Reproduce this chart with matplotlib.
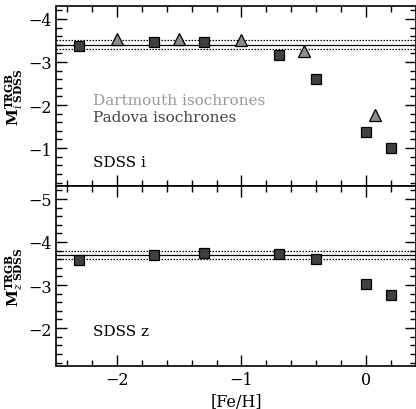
import matplotlib
matplotlib.use("Agg")
import matplotlib.pyplot as plt
from matplotlib.ticker import MultipleLocator

plt.rcParams['font.family'] = ['DejaVu Serif']
plt.rcParams['mathtext.fontset'] = 'dejavuserif'

# Data
padova_feh = [-2.3, -1.7, -1.3, -0.7, -0.4, 0.0, 0.2]
padova_i = [-3.38, -3.46, -3.46, -3.17, -2.60, -1.38, -1.00]
padova_z = [-3.57, -3.70, -3.74, -3.73, -3.60, -3.02, -2.77]
dart_feh = [-2.0, -1.5, -1.0, -0.5, 0.07]
dart_i = [-3.53, -3.53, -3.50, -3.26, -1.77]
i_mean, i_err = -3.40, 0.10
z_mean, z_err = -3.70, 0.10

W, H = 416, 410
fig = plt.figure(figsize=(W/100, H/100), dpi=100)
left = 56.5/W
right = 1.0
ax1 = fig.add_axes([left, 1-187/H, right-left, 180/H])
ax2 = fig.add_axes([left, 1-367/H, right-left, 180/H])

sq_kw = dict(marker='s', ms=7.2, mfc='#404040', mec='black', mew=0.9, ls='none', zorder=5)
tr_kw = dict(marker='^', ms=8.3, mfc='#8c8c8c', mec='black', mew=0.9, ls='none', zorder=5)

for ax, mean, err in ((ax1, i_mean, i_err), (ax2, z_mean, z_err)):
    ax.axhline(mean, color='black', lw=0.9, zorder=2)
    ax.axhline(mean - err, color='black', lw=0.9, ls=(0, (1.2, 1.2)), zorder=2)
    ax.axhline(mean + err, color='black', lw=0.9, ls=(0, (1.2, 1.2)), zorder=2)

ax1.plot(padova_feh, padova_i, **sq_kw)
ax1.plot(dart_feh, dart_i, **tr_kw)
ax2.plot(padova_feh, padova_z, **sq_kw)

ax1.set_ylim(-0.12, -4.3)
ax2.set_ylim(-1.12, -5.3)
for ax in (ax1, ax2):
    ax.set_xlim(-2.484, 0.4)
    ax.xaxis.set_major_locator(MultipleLocator(1))
    ax.xaxis.set_minor_locator(MultipleLocator(0.2))
    ax.yaxis.set_major_locator(MultipleLocator(1))
    ax.yaxis.set_minor_locator(MultipleLocator(0.2))
    ax.tick_params(which='both', direction='in', top=True, right=True, labelsize=11.5)
    ax.tick_params(which='major', length=8, width=1)
    ax.tick_params(which='minor', length=4, width=1)
    for s in ax.spines.values():
        s.set_linewidth(1.2)
ax1.tick_params(labelbottom=False)
ax1.set_yticks([-4, -3, -2, -1])
ax2.set_yticks([-5, -4, -3, -2])

tx = -2.19
ax1.text(tx, -2.12, 'Dartmouth isochrones', color='#999999', fontsize=11, va='center')
ax1.text(tx, -1.72, 'Padova isochrones', color='#444444', fontsize=11, va='center')
ax1.text(tx, -0.67, 'SDSS i', color='black', fontsize=11, va='center')
ax2.text(tx, -1.93, 'SDSS z', color='black', fontsize=11, va='center')

ax1.set_ylabel(r'$\mathbf{M}^{\mathbf{TRGB}}_{i\ \mathbf{SDSS}}$', fontsize=11, labelpad=2)
ax2.set_ylabel(r'$\mathbf{M}^{\mathbf{TRGB}}_{z\ \mathbf{SDSS}}$', fontsize=11, labelpad=2)
ax2.set_xlabel('[Fe/H]', fontsize=11.5, labelpad=4)

fig.savefig('out.png', dpi=100)
